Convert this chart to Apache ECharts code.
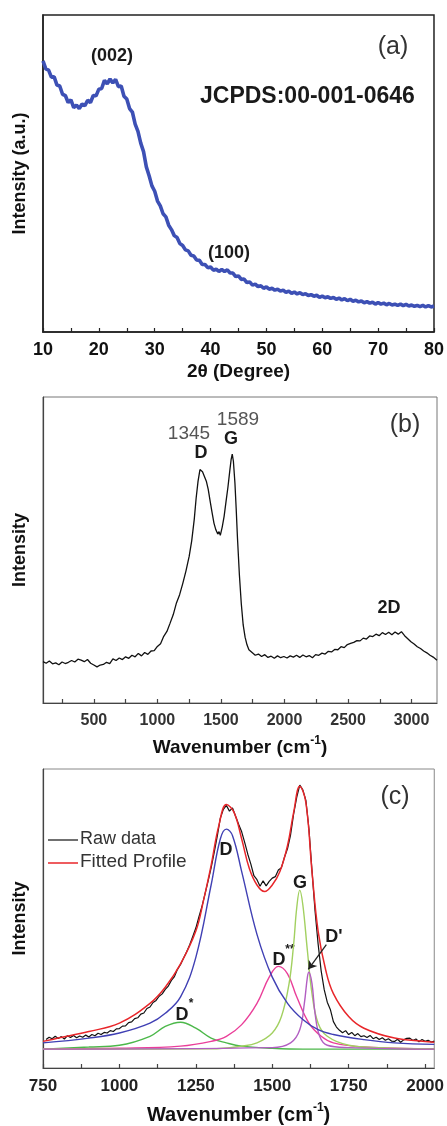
<!DOCTYPE html>
<html><head><meta charset="utf-8">
<script src="https://cdn.jsdelivr.net/npm/echarts@6/dist/echarts.min.js"></script>
<style>html,body{margin:0;padding:0;background:#fff}#c{width:447px;height:1126px}</style>
</head><body><div id="c"></div>
<script>
const FONT = "Arial, 'Liberation Sans', sans-serif";

// ---------- (a) XRD ----------
const xrdStart = 10, xrdStep = 0.5;
const xrdIntensity = [
85.5,83.0,82.6,80.4,80.5,77.9,77.6,75.0,74.6,72.4,73.2,70.8,71.6,70.5,71.9,71.4,73.1,72.4,74.6,74.5,
76.6,76.8,79.4,78.3,79.8,78.6,79.7,77.4,77.6,74.4,73.5,70.5,69.4,65.6,63.3,59.6,56.9,52.1,49.3,46.1,
44.4,41.3,39.8,37.3,36.3,33.7,32.3,30.4,29.8,27.9,27.3,25.9,25.6,24.2,24.0,22.7,22.6,21.3,21.3,20.3,
20.5,19.5,19.8,19.1,19.7,19.1,19.6,18.6,18.6,17.5,17.7,16.6,16.7,15.6,15.8,14.8,15.1,14.3,14.6,13.8,
14.2,13.5,13.8,13.2,13.5,12.9,13.2,12.5,12.9,12.2,12.6,12.0,12.4,11.8,12.1,11.5,11.8,11.3,11.6,10.9,
11.3,10.8,11.1,10.6,10.9,10.3,10.7,10.1,10.5,9.9,10.3,9.7,10.0,9.5,9.8,9.2,9.6,9.1,9.4,8.8,
9.3,8.8,9.1,8.6,9.0,8.5,8.8,8.4,8.8,8.3,8.7,8.2,8.5,8.1,8.4,8.0,8.4,7.9,8.3,7.9,8.2
];
const xrdLabelValues = [10,20,30,40,50,60,70,80];
const xrdTickValues = [10,15,20,25,30,35,40,45,50,55,60,65,70,75,80];

// ---------- (b) Raman ----------
const ramanWavenumber = [
100,125,150,175,200,225,250,275,300,325,350,375,400,425,450,475,500,525,550,575,600,625,650,675,700,725,750,775,800,825,850,875,900,925,950,975,
1000,1025,1050,1075,1100,1125,1150,1175,1200,1225,1250,1270,1290,1305,1320,1335,1345,1355,1370,1385,1400,1415,1430,1445,1460,1475,1485,1495,
1510,1525,1540,1555,1570,1580,1589,1598,1610,1620,1630,1645,1660,1675,1690,1705,1720,1745,1770,1795,1820,1845,1870,1895,1920,1945,1970,1995,
2020,2045,2070,2095,2120,2145,2170,2195,2220,2245,2270,2295,2320,2345,2370,2395,2420,2445,2470,2495,2520,2545,2570,2595,2620,2645,2670,2695,
2720,2745,2770,2795,2820,2845,2870,2895,2920,2945,2970,2995,3020,3045,3070,3095,3120,3145,3170,3200
];
const ramanIntensity = [
13.5,13.0,13.7,12.8,13.1,12.5,13.4,12.9,13.3,13.9,13.4,14.3,14.0,13.5,14.2,13.0,12.4,11.8,12.4,12.6,13.3,12.9,14.4,13.9,14.7,14.2,15.1,14.6,15.6,15.1,16.2,15.4,16.5,15.9,17.0,17.1,
18.5,19.4,21.8,23.4,26.1,28.9,32.7,35.4,39.1,43.2,47.9,53.0,60.0,67.0,72.5,76.3,76.8,75.6,75.2,72.5,69.8,66.0,62.3,58.8,56.6,55.2,56.0,54.8,
57.5,61.0,65.8,70.5,76.0,79.5,81.3,79.0,72.0,63.5,54.0,42.0,32.5,25.5,21.5,19.0,17.4,16.5,15.6,16.0,15.2,15.8,14.9,15.3,14.6,15.4,14.8,15.2,
14.7,15.4,15.0,15.6,14.9,15.7,15.1,15.5,14.8,15.8,15.6,16.3,16.0,16.9,16.7,17.5,17.4,18.4,18.1,19.1,19.5,19.8,20.4,20.3,21.2,20.9,21.9,21.7,
22.5,22.0,23.0,22.4,23.1,22.3,23.2,22.5,23.3,22.0,21.0,20.0,19.3,18.4,17.8,17.0,16.4,15.6,15.0,14.0
];
const ramanLabelValues = [500,1000,1500,2000,2500,3000];
const ramanTickValues = [250,500,750,1000,1250,1500,1750,2000,2250,2500,2750,3000];

// ---------- (c) fitted Raman ----------
const rawStart = 760, rawStep = 10;
const rawIntensity = [
9.5,10.3,9.8,10.6,9.9,10.5,9.7,10.8,10.2,10.9,10.1,10.7,10.3,11.0,10.4,11.2,10.8,11.6,11.2,11.9,11.7,12.5,12.2,13.1,
13.2,14.0,14.1,15.2,15.4,16.5,16.8,18.0,18.4,19.9,20.4,21.9,22.6,24.0,24.8,26.3,27.4,29.3,30.6,33.0,34.6,36.8,38.9,41.2,44.0,
46.8,50.5,54.0,58.2,62.5,66.9,72.0,77.5,83.5,86.5,87.8,85.9,87.0,84.2,81.5,79.0,75.4,71.5,68.2,64.3,63.0,60.8,62.6,60.9,62.4,
63.5,64.0,66.2,67.0,70.5,73.4,78.0,85.0,90.5,94.6,93.0,89.5,80.0,66.0,52.5,41.5,32.5,26.2,22.0,19.6,15.5,13.7,12.6,11.8,12.5,
11.2,11.9,10.8,11.5,10.5,10.8,10.2,10.9,9.8,10.3,9.5,10.1,9.3,9.8,9.0,8.9,9.6,8.6,9.4,9.9,10.0,9.2,9.7,8.8,9.5,8.9,9.3,8.7,9.0
];
const fitX = [750,800,900,1000,1100,1150,1200,1250,1275,1300,1325,1350,1375,1400,1425,1450,1475,1500,1525,1550,1570,1590,1610,1630,1650,1675,1700,1750,1800,1900,2000,2030];
const fitY = [8.9,10,12.2,15,21.6,27,34.8,45.8,56,67.8,81,88.1,85.5,76.6,66.7,61.2,59,61.2,65.7,74.4,85.5,94.2,88.8,65.7,45.8,32.7,24.9,17.2,13.3,10,8.9,8.6];
const dX = [750,900,1000,1100,1150,1200,1250,1300,1330,1350,1370,1400,1450,1500,1550,1600,1650,1700,1800,1900,2030];
const dY = [8.4,10,11.7,15,18.3,23.8,37,61.2,76.6,79.9,77.7,65.7,44.7,30.4,21.6,16.2,12.8,11.2,9.5,8.4,7.9];
const dStarX = [750,900,1000,1100,1150,1200,1250,1300,1350,1400,1500,1600,2030];
const dStarY = [6.3,7,7.6,10.6,13.9,15.3,13.3,10,8.4,7.3,6.6,6.3,6.3];
const dDoubleX = [750,1000,1200,1300,1350,1400,1450,1490,1520,1550,1580,1620,1660,1700,1800,2030];
const dDoubleY = [6.3,6.6,7.3,8.9,10.6,14.5,21.6,30.4,34,31.5,23.8,15,10.6,8.4,7,6.4];
const gX = [750,1300,1400,1450,1500,1530,1555,1570,1580,1590,1600,1615,1630,1650,1680,1750,1850,2030];
const gY = [6.3,6.4,7.3,8.4,11.7,17.2,28.2,41.4,53.5,59.5,54.6,39.2,24.9,15,10.6,7.6,6.8,6.4];
const dPrimeX = [750,1500,1560,1590,1605,1615,1620,1630,1640,1655,1680,1750,2030];
const dPrimeY = [6.3,6.8,8.4,12.8,21.6,30.4,32,28.2,18.3,10.6,7.6,6.8,6.3];
const fitLabelValues = [750,1000,1250,1500,1750,2000];
const fitTickValues = [750,875,1000,1125,1250,1375,1500,1625,1750,1875,2000];

const zip = (xs, ys) => xs.map((x, i) => [x, ys[i]]);
const xrdData = xrdIntensity.map((v, i) => [xrdStart + i * xrdStep, v]);
const rawData = rawIntensity.map((v, i) => [rawStart + i * rawStep, v]);

const chart = echarts.init(document.getElementById('c'), null, {renderer: 'canvas'});

function xAx(gi, min, max, labels, ticks, name, opts) {
  return {
    type: 'value', gridIndex: gi, min, max,
    axisLine: {show: true, lineStyle: {color: opts.lineColor, width: opts.lineWidth}},
    axisTick: {show: true, inside: true, length: 4, customValues: ticks, lineStyle: {color: opts.lineColor, width: 1.2}},
    axisLabel: {customValues: labels, formatter: v => String(v), margin: opts.margin, color: opts.labelColor,
                fontFamily: FONT, fontWeight: 'bold', fontSize: opts.labelSize},
    splitLine: {show: false},
    name, nameLocation: 'middle', nameGap: opts.nameGap,
    nameTextStyle: opts.nameStyle
  };
}
function yAx(gi, name, opts) {
  return {
    type: 'value', gridIndex: gi, min: 0, max: 100,
    axisLine: {show: true, lineStyle: {color: opts.lineColor, width: opts.lineWidth}},
    axisTick: {show: false}, axisLabel: {show: false}, splitLine: {show: false},
    name, nameLocation: 'middle', nameGap: 14, nameRotate: 90,
    nameTextStyle: {fontFamily: FONT, fontWeight: 'bold', fontSize: 18, color: '#111'}
  };
}
const wnName = '{n|Wavenumber (cm}{s|-1}{n|)}';
const wnRich = (size) => ({fontFamily: FONT, rich: {
  n: {fontFamily: FONT, fontWeight: 'bold', fontSize: size, color: '#111'},
  s: {fontFamily: FONT, fontWeight: 'bold', fontSize: 12, color: '#111', padding: [0, 0, 14, 0]}
}});

const txt = (x, y, text, size, weight, color, align) => ({
  type: 'text', x, y, silent: true,
  style: {text, fontFamily: FONT, fontSize: size, fontWeight: weight || 'normal', fill: color || '#222',
          align: align || 'center', verticalAlign: 'middle'}
});

chart.setOption({
  animation: false,
  backgroundColor: '#fff',
  grid: [
    {left: 43, right: 11, top: 15, height: 317, show: true, borderColor: '#222', borderWidth: 1.5, backgroundColor: 'transparent'},
    {left: 43, right: 10, top: 397, height: 306, show: true, borderColor: '#777', borderWidth: 1, backgroundColor: 'transparent'},
    {left: 43, right: 10, top: 769, height: 303, show: true, borderColor: '#888', borderWidth: 1, backgroundColor: 'transparent'}
  ],
  xAxis: [
    xAx(0, 10, 80, xrdLabelValues, xrdTickValues, '2θ (Degree)',
      {lineColor: '#222', lineWidth: 1.5, margin: 9, labelColor: '#111', labelSize: 18, nameGap: 30,
       nameStyle: {fontFamily: FONT, fontWeight: 'bold', fontSize: 19, color: '#111'}}),
    xAx(1, 100, 3200, ramanLabelValues, ramanTickValues, wnName,
      {lineColor: '#444', lineWidth: 1.2, margin: 10, labelColor: '#333', labelSize: 16, nameGap: 32,
       nameStyle: wnRich(19)}),
    xAx(2, 750, 2030, fitLabelValues, fitTickValues, wnName,
      {lineColor: '#444', lineWidth: 1.2, margin: 10, labelColor: '#222', labelSize: 17, nameGap: 34,
       nameStyle: wnRich(20)})
  ],
  yAxis: [
    yAx(0, 'Intensity (a.u.)', {lineColor: '#222', lineWidth: 1.5}),
    yAx(1, 'Intensity', {lineColor: '#444', lineWidth: 1.2}),
    yAx(2, 'Intensity', {lineColor: '#444', lineWidth: 1.2})
  ],
  series: [
    {type: 'line', xAxisIndex: 0, yAxisIndex: 0, data: xrdData, symbol: 'none', lineStyle: {color: '#3d50b5', width: 3.6}},
    {type: 'line', xAxisIndex: 1, yAxisIndex: 1, data: zip(ramanWavenumber, ramanIntensity), symbol: 'none', lineStyle: {color: '#111', width: 1.3}},
    {type: 'line', xAxisIndex: 2, yAxisIndex: 2, data: zip(dStarX, dStarY), symbol: 'none', smooth: 0.4, lineStyle: {color: '#4cb84a', width: 1.4}},
    {type: 'line', xAxisIndex: 2, yAxisIndex: 2, data: zip(dDoubleX, dDoubleY), symbol: 'none', smooth: 0.4, lineStyle: {color: '#ea3f99', width: 1.4}},
    {type: 'line', xAxisIndex: 2, yAxisIndex: 2, data: zip(gX, gY), symbol: 'none', smooth: 0.4, lineStyle: {color: '#a2d060', width: 1.4}},
    {type: 'line', xAxisIndex: 2, yAxisIndex: 2, data: zip(dPrimeX, dPrimeY), symbol: 'none', smooth: 0.4, lineStyle: {color: '#b25ec2', width: 1.4},
      markLine: {silent: true, animation: false, symbol: ['none', 'arrow'], symbolSize: 8,
        label: {show: false}, lineStyle: {color: '#222', width: 1.3, type: 'solid'},
        data: [[{coord: [1677, 41.3]}, {coord: [1618, 33]}]]}},
    {type: 'line', xAxisIndex: 2, yAxisIndex: 2, data: zip(dX, dY), symbol: 'none', smooth: 0.4, lineStyle: {color: '#4040b4', width: 1.4}},
    {type: 'line', xAxisIndex: 2, yAxisIndex: 2, data: rawData, symbol: 'none', lineStyle: {color: '#111', width: 1.2}},
    {type: 'line', xAxisIndex: 2, yAxisIndex: 2, data: zip(fitX, fitY), symbol: 'none', smooth: 0.4, lineStyle: {color: '#e8262a', width: 1.5}}
  ],
  graphic: [
    txt(393, 47, '(a)', 25, 'normal', '#333'),
    txt(200, 97, 'JCPDS:00-001-0646', 23, 'bold', '#1a1a1a', 'left'),
    txt(112, 56, '(002)', 18, 'bold', '#1a1a1a'),
    txt(229, 253, '(100)', 18, 'bold', '#1a1a1a'),
    txt(405, 425, '(b)', 25, 'normal', '#333'),
    txt(189, 434, '1345', 19, 'normal', '#555'),
    txt(201, 453, 'D', 18, 'bold', '#1a1a1a'),
    txt(238, 420, '1589', 19, 'normal', '#555'),
    txt(231, 439, 'G', 18, 'bold', '#1a1a1a'),
    txt(389, 608, '2D', 18, 'bold', '#1a1a1a'),
    txt(395, 797, '(c)', 25, 'normal', '#333'),
    {type: 'line', silent: true, shape: {x1: 48, y1: 840, x2: 78, y2: 840}, style: {stroke: '#222', lineWidth: 1.3}},
    {type: 'line', silent: true, shape: {x1: 48, y1: 863, x2: 78, y2: 863}, style: {stroke: '#e8262a', lineWidth: 1.5}},
    txt(80, 839, 'Raw data', 18, 'normal', '#333', 'left'),
    txt(80, 862, 'Fitted Profile', 19, 'normal', '#333', 'left'),
    txt(226, 850, 'D', 18, 'bold', '#1a1a1a'),
    txt(300, 883, 'G', 18, 'bold', '#1a1a1a'),
    txt(279, 960, 'D', 18, 'bold', '#1a1a1a'),
    txt(290, 950, '**', 12, 'bold', '#1a1a1a'),
    txt(334, 937, "D'", 18, 'bold', '#1a1a1a'),
    txt(182, 1015, 'D', 18, 'bold', '#1a1a1a'),
    txt(191, 1004, '*', 12, 'bold', '#1a1a1a')
  ]
});
</script></body></html>
